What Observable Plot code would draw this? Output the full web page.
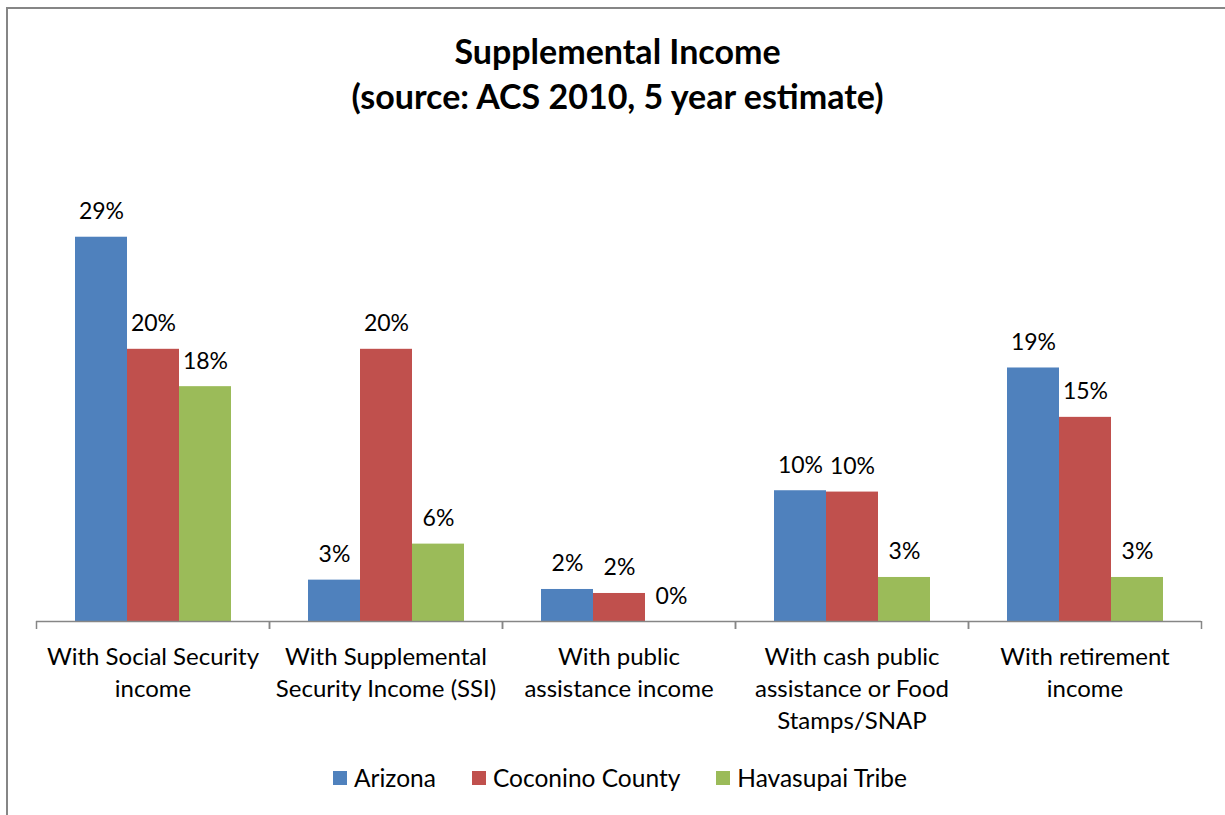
<!DOCTYPE html>
<html><head><meta charset="utf-8">
<script src="https://cdn.jsdelivr.net/npm/d3@7"></script>
<script src="https://cdn.jsdelivr.net/npm/@observablehq/plot@0.6"></script>
<style>
html,body{margin:0;padding:0;background:#fff;width:1225px;height:815px;overflow:hidden;font-family:Lato,sans-serif;color:#000;}
#frame{position:absolute;left:6px;top:7px;width:1260px;height:840px;border-left:2px solid #868686;border-top:2px solid #868686;box-sizing:border-box;}
#title{position:absolute;left:0;top:28px;width:1235px;text-align:center;font-weight:bold;font-size:34px;line-height:45px;}
#chart{position:absolute;left:0;top:0;}
#legend{position:absolute;top:764px;left:0;width:1240px;display:flex;justify-content:center;gap:36px;font-size:24.5px;line-height:28px;}
#legend .item{display:flex;align-items:center;gap:7px;}
#legend .sw{width:14px;height:14px;display:inline-block;}
</style>
</head><body>
<div id="frame"></div>
<div id="title">Supplemental Income<br>(source: ACS 2010, 5 year estimate)</div>
<div id="chart"></div>
<div id="legend"></div>
<script>
const categories = [
  "With Social Security\nincome",
  "With Supplemental\nSecurity Income (SSI)",
  "With public\nassistance income",
  "With cash public\nassistance or Food\nStamps/SNAP",
  "With retirement\nincome"
];
const series = ["Arizona", "Coconino County", "Havasupai Tribe"];
const colors = ["#4F81BD", "#C0504D", "#9BBB59"];
const arizona   = [28.8, 3.1, 2.4, 9.8, 19.0];
const coconino  = [20.4, 20.4, 2.1, 9.7, 15.3];
const havasupai = [17.6, 5.8, 0.0, 3.3, 3.3];

const values = [arizona, coconino, havasupai];
const rows = [];
categories.forEach((c, i) => series.forEach((s, j) => rows.push({category: c, series: s, value: values[j][i]})));

const chart = Plot.plot({
  width: 1225,
  height: 740,
  marginLeft: 36,
  marginRight: 24,
  marginTop: 154,
  marginBottom: 119,
  style: {fontFamily: "Lato, sans-serif", fontSize: "22px", color: "#000", background: "transparent"},
  fx: {domain: categories, padding: 0, axis: null, label: null},
  x: {domain: series, paddingInner: 0, paddingOuter: 0.74, axis: null},
  y: {domain: [0, 35], axis: null},
  color: {domain: series, range: colors},
  marks: [
    Plot.barY(rows, {fx: "category", x: "series", y: "value", fill: "series"}),
    Plot.ruleY([0], {stroke: "#868686", strokeWidth: 1.5}),
    Plot.axisFx({anchor: "bottom", label: null, fill: "none", tickSize: 8, stroke: "#868686", strokeWidth: 1.5, dx: -116.5}),
    Plot.axisFx({anchor: "bottom", label: null, fill: "none", tickSize: 8, stroke: "#868686", strokeWidth: 1.5, dx: 116.5}),
    Plot.axisFx({anchor: "bottom", label: null, tickSize: 0, tickPadding: 21, fontSize: 24, lineHeight: 1.33, fill: "#000"}),
    Plot.text(rows, {fx: "category", x: "series", y: "value", text: d => `${Math.round(d.value)}%`, lineAnchor: "bottom", dy: -18, fontSize: 23, fill: "#000"})
  ]
});
document.getElementById("chart").appendChild(chart);

const legend = document.getElementById("legend");
series.forEach((s, i) => {
  const item = document.createElement("div");
  item.className = "item";
  const sw = document.createElement("span");
  sw.className = "sw";
  sw.style.background = colors[i];
  const t = document.createElement("span");
  t.textContent = s;
  item.appendChild(sw); item.appendChild(t);
  legend.appendChild(item);
});
</script>
</body></html>
